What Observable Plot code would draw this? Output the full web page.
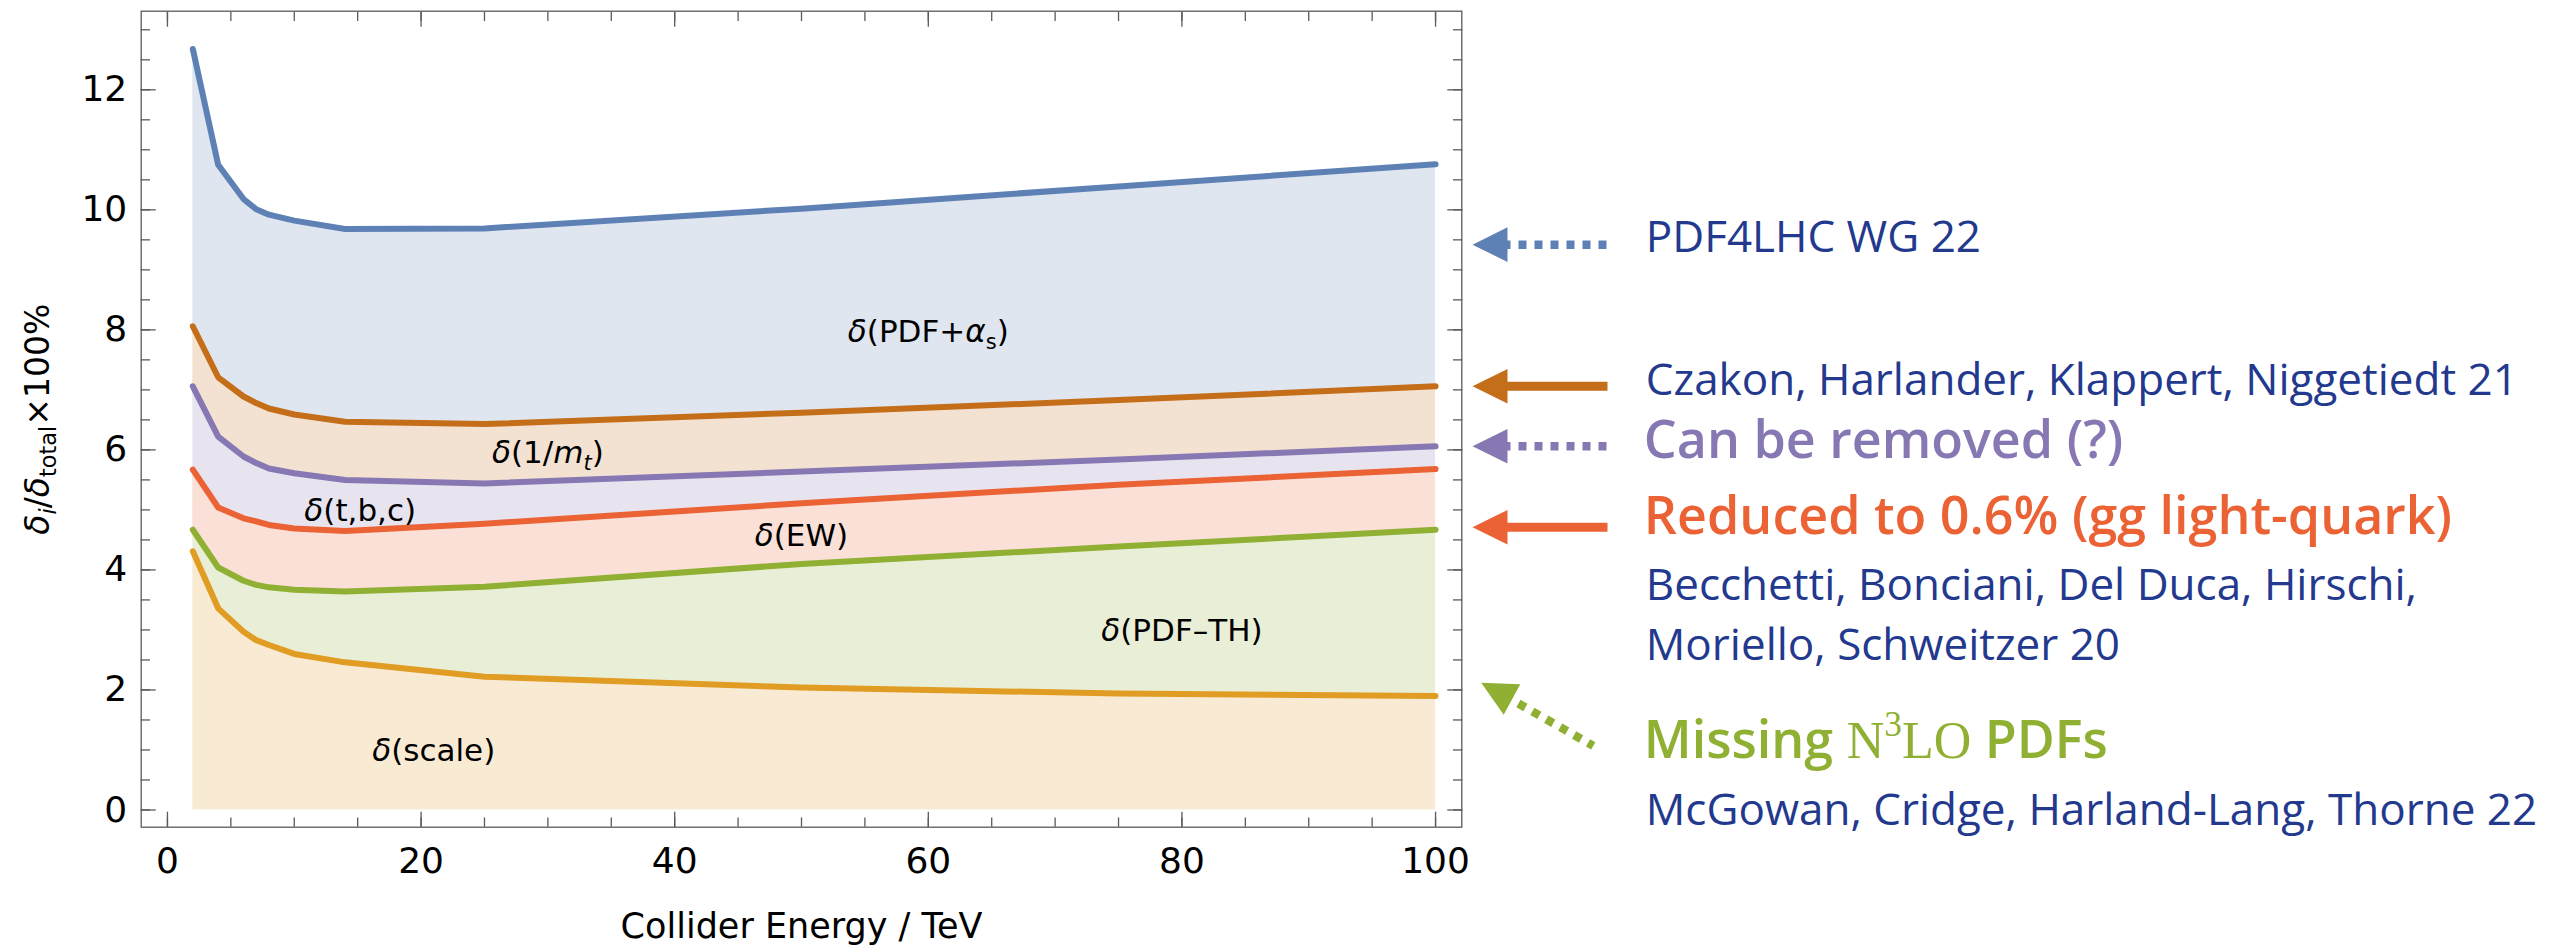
<!DOCTYPE html>
<html><head><meta charset="utf-8">
<script src="https://cdn.jsdelivr.net/npm/d3@7"></script>
<script src="https://cdn.jsdelivr.net/npm/@observablehq/plot@0.6"></script>
<style>html,body{margin:0;padding:0;background:#fff;} #chart{width:2572px;height:945px;overflow:hidden;}</style>
</head><body><div id="chart"></div>
<script>
// ---- data ----
const energy   = [2, 4, 6, 7, 8, 10, 14, 25, 50, 75, 100];
const scaleTop = [4.31, 3.36, 2.97, 2.83, 2.75, 2.60, 2.46, 2.22, 2.04, 1.94, 1.90];
const pdfThTop = [4.67, 4.04, 3.82, 3.75, 3.71, 3.67, 3.64, 3.72, 4.10, 4.39, 4.67];
const ewTop    = [5.67, 5.04, 4.86, 4.81, 4.75, 4.69, 4.65, 4.77, 5.11, 5.42, 5.68];
const tbcTop   = [7.06, 6.22, 5.89, 5.78, 5.69, 5.61, 5.50, 5.44, 5.64, 5.84, 6.06];
const invMtTop = [8.06, 7.21, 6.89, 6.78, 6.69, 6.59, 6.47, 6.43, 6.62, 6.83, 7.06];
const pdfAsTop = [12.68, 10.75, 10.18, 10.01, 9.92, 9.82, 9.68, 9.69, 10.02, 10.39, 10.76];

const bandNames  = ["δ(scale)", "δ(PDF–TH)", "δ(EW)", "δ(t,b,c)", "δ(1/mt)", "δ(PDF+αs)"];
const bandColors = ["#E19C24", "#8FB032", "#EB6235", "#8778B3", "#C56E1A", "#5E81B5"];
const labelEnergy = [21, 80, 50, 15.2, 30, 60];
const labelValue  = [0.98, 2.98, 4.57, 4.98, 5.94, 7.96];

const xMajor = [0, 20, 40, 60, 80, 100];
const xMinor = d3.range(0, 101, 5);
const yMajor = [0, 2, 4, 6, 8, 10, 12];
const yMinor = d3.range(0, 13.01, 0.5);

const citeTexts  = ["PDF4LHC WG 22", "Czakon, Harlander, Klappert, Niggetiedt 21",
                    "Becchetti, Bonciani, Del Duca, Hirschi,", "Moriello, Schweitzer 20",
                    "McGowan, Cridge, Harland-Lang, Thorne 22"];
const citeValues = [9.53, 7.15, 3.735, 2.735, -0.01];
const claimTexts  = ["Can be removed (?)", "Reduced to 0.6% (gg light-quark)", "Missing N3LO PDFs"];
const claimValues = [6.15, 4.875, 1.14];
const claimColors = ["#8778B3", "#EB6235", "#8FB032"];

const arrowValues = [9.42, 7.06, 6.06, 4.71];
const arrowColors = ["#5E81B5", "#C56E1A", "#8778B3", "#EB6235"];
const arrowDashed = [true, false, true, false];
const greenHeadValue = 1.98, greenShaftValue = 1.905;

// ---- build table ----
const tops = [scaleTop, pdfThTop, ewTop, tbcTop, invMtTop, pdfAsTop];
const rows = energy.map((e, i) => {
  const r = {energy: e, v0: 0};
  tops.forEach((t, k) => r["v" + (k + 1)] = t[i]);
  return r;
});

const headLeft = {draw(ctx) { ctx.moveTo(-17.5, 0); ctx.lineTo(17.5, -17.3); ctx.lineTo(17.5, 17.3); ctx.closePath(); }};
const lineShape = {draw(ctx, l) { ctx.moveTo(0, 0); ctx.lineTo(0, -l); }};

const frameColor = "#5a5a5a";
const axisTicks = (anchor, ticks, size, k) => (k === "x" ? Plot.axisX : Plot.axisY)(ticks,
  {anchor, tickSize: -size, fill: "none", stroke: frameColor, strokeWidth: 1.3, label: null});

const marks = [];
tops.forEach((t, k) => marks.push(Plot.areaY(rows, {x: "energy", y1: "v" + k, y2: "v" + (k + 1), fill: bandColors[k], fillOpacity: 0.2})));
tops.forEach((t, k) => marks.push(Plot.line(rows, {x: "energy", y: "v" + (k + 1), stroke: bandColors[k], strokeWidth: 6, strokeLinejoin: "round"})));
marks.push(
  Plot.frame({stroke: frameColor, strokeWidth: 1.3}),
  axisTicks("bottom", xMinor, 9.3, "x"), axisTicks("bottom", xMajor, 15, "x"),
  axisTicks("top", xMinor, 9.3, "x"), axisTicks("top", xMajor, 15, "x"),
  axisTicks("left", yMinor, 9.3, "y"), axisTicks("left", yMajor, 15, "y"),
  axisTicks("right", yMinor, 9.3, "y"), axisTicks("right", yMajor, 15, "y"),
  Plot.axisX(xMajor, {anchor: "bottom", tickSize: 0, tickPadding: 20, fontSize: 36, fill: "black", label: null, tickFormat: d => String(d)}),
  Plot.axisY(yMajor, {anchor: "left", tickSize: 0, tickPadding: 14, fontSize: 36, fill: "black", label: null, tickFormat: d => String(d)}),
  Plot.text(bandNames, {x: (d, i) => labelEnergy[i], y: (d, i) => labelValue[i], text: d => d, fontSize: 31, fill: "black"}),
  Plot.text(["δi/δtotal×100%"], {frameAnchor: "left", dx: -103, rotate: -90, textAnchor: "middle", lineAnchor: "middle", text: d => d, fontSize: 33, fill: "black"}),
  Plot.text(["Collider Energy / TeV"], {frameAnchor: "bottom", dy: 100, textAnchor: "middle", lineAnchor: "middle", text: d => d, fontSize: 35, fill: "black"}),
  // annotations
  Plot.text(citeTexts, {y: (d, i) => citeValues[i], frameAnchor: "right", dx: 184, textAnchor: "start", lineAnchor: "middle", text: d => d,
    fontFamily: "Open Sans", fontSize: 44, fill: "#23398E"}),
  Plot.text(claimTexts, {y: (d, i) => claimValues[i], frameAnchor: "right", dx: 182, textAnchor: "start", lineAnchor: "middle", text: d => d,
    fontFamily: "Open Sans", fontWeight: 600, fontSize: 52, fill: (d, i) => claimColors[i]}),
  Plot.vector(arrowValues.filter((d, i) => arrowDashed[i]), {y: d => d, frameAnchor: "right", dx: 40.7, anchor: "start", rotate: 90, length: 105,
    shape: lineShape, stroke: d => arrowColors[arrowValues.indexOf(d)], strokeWidth: 8.5, strokeDasharray: "8,8", strokeLinecap: "butt"}),
  Plot.vector(arrowValues.filter((d, i) => !arrowDashed[i]), {y: d => d, frameAnchor: "right", dx: 40.7, anchor: "start", rotate: 90, length: 105,
    shape: lineShape, stroke: d => arrowColors[arrowValues.indexOf(d)], strokeWidth: 9, strokeLinecap: "butt"}),
  Plot.dot(arrowValues, {y: d => d, frameAnchor: "right", dx: 28.2, symbol: headLeft, fill: (d, i) => arrowColors[i], stroke: null}),
  Plot.vector([greenShaftValue], {y: d => d, frameAnchor: "right", dx: 42.7, anchor: "start", rotate: 119.5, length: 102,
    shape: lineShape, stroke: "#8FB032", strokeWidth: 8.5, strokeDasharray: "8,8", strokeLinecap: "butt"}),
  Plot.dot([greenHeadValue], {y: d => d, frameAnchor: "right", dx: 34.8, symbol: headLeft, rotate: 28.6, fill: "#8FB032", stroke: null})
);

const chart = Plot.plot({
  width: 2572, height: 945,
  marginLeft: 140.7, marginRight: 1110.7, marginTop: 10.7, marginBottom: 118.3,
  x: {domain: [-2.07, 102.07]},
  y: {domain: [-0.287, 13.31]},
  color: {type: "identity"},
  style: {fontFamily: "DejaVu Sans", background: "white", color: "black"},
  marks
});
document.getElementById("chart").appendChild(chart);

// ---- rich text (italics, sub/superscripts) ----
const rich = new Map([
  ["δ(scale)", [{t: "δ", it: 1}, {t: "(scale)"}]],
  ["δ(PDF–TH)", [{t: "δ", it: 1}, {t: "(PDF–TH)"}]],
  ["δ(EW)", [{t: "δ", it: 1}, {t: "(EW)"}]],
  ["δ(t,b,c)", [{t: "δ", it: 1}, {t: "(t,b,c)"}]],
  ["δ(1/mt)", [{t: "δ", it: 1}, {t: "(1/"}, {t: "m", it: 1}, {t: "t", it: 1, sub: 1}, {t: ")"}]],
  ["δ(PDF+αs)", [{t: "δ", it: 1}, {t: "(PDF+"}, {t: "α", it: 1}, {t: "s", sub: 1}, {t: ")"}]],
  ["δi/δtotal×100%", [{t: "δ", it: 1}, {t: "i", it: 1, sub: 1}, {t: "/"}, {t: "δ", it: 1}, {t: "total", sub: 1}, {t: "×100%"}]],
  ["Missing N3LO PDFs", [{t: "Missing "}, {t: "N", serif: 1}, {t: "3", serif: 1, sup: 1}, {t: "LO", serif: 1}, {t: " PDFs"}]]
]);
chart.querySelectorAll("text").forEach(el => {
  const segs = rich.get(el.textContent);
  if (!segs) return;
  const fs = parseFloat(getComputedStyle(el).fontSize);
  el.textContent = "";
  let shift = 0;
  for (const s of segs) {
    const ts = document.createElementNS("http://www.w3.org/2000/svg", "tspan");
    ts.textContent = s.t;
    const target = s.sub ? 0.22 * fs : s.sup ? -0.42 * fs : 0;
    if (target !== shift) { ts.setAttribute("dy", target - shift); shift = target; }
    if (s.sub || s.sup) ts.setAttribute("font-size", 0.68 * fs);
    if (s.it) ts.setAttribute("font-style", "italic");
    if (s.serif) { ts.setAttribute("font-family", "Liberation Serif"); ts.setAttribute("font-weight", "normal"); }
    el.appendChild(ts);
  }
});
</script></body></html>
